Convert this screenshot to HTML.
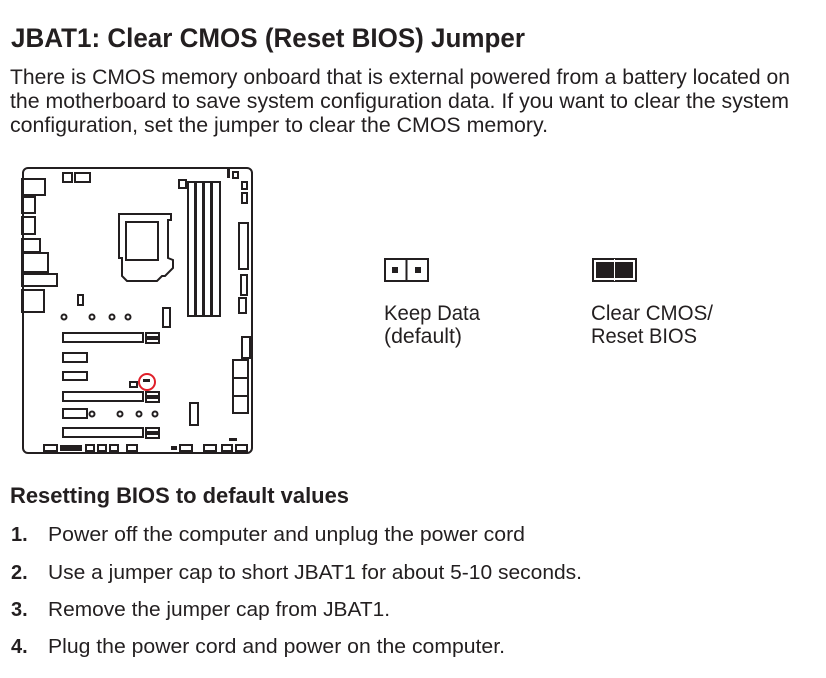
<!DOCTYPE html>
<html><head><meta charset="utf-8"><style>
html,body{margin:0;padding:0;background:#fff;}
svg{display:block;}
text{font-family:"Liberation Sans",sans-serif;fill:#231f20;}
</style></head><body>
<svg width="826" height="678" viewBox="0 0 826 678" xmlns="http://www.w3.org/2000/svg">
<text x="11" y="47" font-size="27" font-weight="bold" textLength="514" lengthAdjust="spacingAndGlyphs">JBAT1: Clear CMOS (Reset BIOS) Jumper</text>
<text x="10" y="84" font-size="21" textLength="780" lengthAdjust="spacingAndGlyphs">There is CMOS memory onboard that is external powered from a battery located on</text>
<text x="10" y="108" font-size="21" textLength="779" lengthAdjust="spacingAndGlyphs">the motherboard to save system configuration data. If you want to clear the system</text>
<text x="10" y="132" font-size="21" textLength="538" lengthAdjust="spacingAndGlyphs">configuration, set the jumper to clear the CMOS memory.</text>

<g fill="none" stroke="#231f20" stroke-width="2">
<rect x="23" y="168" width="229" height="285" rx="5"/>
<rect x="63" y="173" width="9" height="9"/><rect x="75" y="173" width="15" height="9"/>
<rect x="22" y="179" width="23" height="16"/><rect x="22" y="197" width="13" height="16"/>
<rect x="22" y="217" width="13" height="17"/><rect x="22" y="239" width="18" height="13"/>
<rect x="22" y="253" width="26" height="19"/><rect x="22" y="274" width="35" height="12"/>
<rect x="22" y="290" width="22" height="22"/>
<rect x="179" y="180" width="7" height="8"/>
<rect x="188" y="182" width="32" height="134"/>
<rect x="233" y="172" width="5" height="6"/>
<rect x="242" y="182" width="5" height="7"/><rect x="242" y="193" width="5" height="10"/>
<rect x="239" y="223" width="9" height="46"/><rect x="241" y="275" width="6" height="20"/>
<rect x="239" y="298" width="7" height="15"/>
<path d="M119 214 h52 v6 h-3 v38 l5 2 v8 l-8 8 h-3 l-5 5 h-30 l-5 -5 v-18 h-3 z"/>
<rect x="126" y="222" width="32" height="38"/>
<rect x="78" y="295" width="5" height="10"/>
<circle cx="64" cy="317" r="2.5"/><circle cx="92" cy="317" r="2.5"/><circle cx="112" cy="317" r="2.5"/><circle cx="128" cy="317" r="2.5"/>
<rect x="163" y="308" width="7" height="19"/>
<rect x="63" y="333" width="80" height="9"/><rect x="146" y="333" width="13" height="4"/><rect x="146" y="339" width="13" height="4"/>
<rect x="63" y="353" width="24" height="9"/><rect x="63" y="372" width="24" height="8"/>
<rect x="130" y="382" width="7" height="5"/>
<rect x="63" y="392" width="80" height="9"/><rect x="146" y="392" width="13" height="4"/><rect x="146" y="398" width="13" height="4"/>
<rect x="63" y="409" width="24" height="9"/>
<circle cx="92" cy="414" r="2.5"/><circle cx="120" cy="414" r="2.5"/><circle cx="139" cy="414" r="2.5"/><circle cx="155" cy="414" r="2.5"/>
<rect x="190" y="403" width="8" height="22"/>
<rect x="63" y="428" width="80" height="9"/><rect x="146" y="428" width="13" height="4"/><rect x="146" y="434" width="13" height="4"/>
<rect x="242" y="337" width="8" height="21"/>
<rect x="233" y="360" width="15" height="18"/><rect x="233" y="378" width="15" height="18"/><rect x="233" y="396" width="15" height="17"/>
<rect x="44" y="445" width="13" height="6"/><rect x="86" y="445" width="8" height="6"/><rect x="98" y="445" width="8" height="6"/><rect x="110" y="445" width="8" height="6"/><rect x="127" y="445" width="10" height="6"/>
<rect x="180" y="445" width="12" height="6"/><rect x="204" y="445" width="12" height="6"/><rect x="222" y="445" width="10" height="6"/><rect x="236" y="445" width="11" height="6"/>
<circle cx="147" cy="382" r="8" stroke="#e0202a"/>
</g>
<g fill="#231f20">
<rect x="194" y="182" width="3" height="134"/><rect x="202" y="182" width="3" height="134"/><rect x="210" y="182" width="3" height="134"/>
<rect x="60" y="445" width="22" height="6"/><rect x="171" y="446" width="6" height="4"/><rect x="227" y="169" width="3" height="9"/><rect x="229" y="438" width="8" height="3"/>
<rect x="143" y="379" width="7" height="3"/>
</g>

<rect x="385" y="259" width="43" height="22" fill="none" stroke="#231f20" stroke-width="2"/>
<line x1="406.5" y1="259" x2="406.5" y2="281" stroke="#231f20" stroke-width="2"/>
<rect x="392" y="267" width="6" height="6" fill="#231f20"/><rect x="415" y="267" width="6" height="6" fill="#231f20"/>
<rect x="593" y="259" width="43" height="22" fill="none" stroke="#231f20" stroke-width="2"/>
<rect x="596" y="262" width="37" height="16" fill="#231f20"/>
<line x1="614.5" y1="259" x2="614.5" y2="281" stroke="#fff" stroke-width="1"/>

<text x="384" y="320" font-size="21" textLength="96" lengthAdjust="spacingAndGlyphs">Keep Data</text>
<text x="384" y="343" font-size="21" textLength="78" lengthAdjust="spacingAndGlyphs">(default)</text>
<text x="591" y="320" font-size="21" textLength="122" lengthAdjust="spacingAndGlyphs">Clear CMOS/</text>
<text x="591" y="343" font-size="21" textLength="106" lengthAdjust="spacingAndGlyphs">Reset BIOS</text>

<text x="10" y="503" font-size="22" font-weight="bold" textLength="339" lengthAdjust="spacingAndGlyphs">Resetting BIOS to default values</text>
<g font-size="20">
<text x="11" y="541" font-weight="bold">1.</text>
<text x="48" y="541" textLength="477" lengthAdjust="spacingAndGlyphs">Power off the computer and unplug the power cord</text>
<text x="11" y="579" font-weight="bold">2.</text>
<text x="48" y="579" textLength="534" lengthAdjust="spacingAndGlyphs">Use a jumper cap to short JBAT1 for about 5-10 seconds.</text>
<text x="11" y="616" font-weight="bold">3.</text>
<text x="48" y="616" textLength="342" lengthAdjust="spacingAndGlyphs">Remove the jumper cap from JBAT1.</text>
<text x="11" y="653" font-weight="bold">4.</text>
<text x="48" y="653" textLength="457" lengthAdjust="spacingAndGlyphs">Plug the power cord and power on the computer.</text>
</g>
</svg>
</body></html>
